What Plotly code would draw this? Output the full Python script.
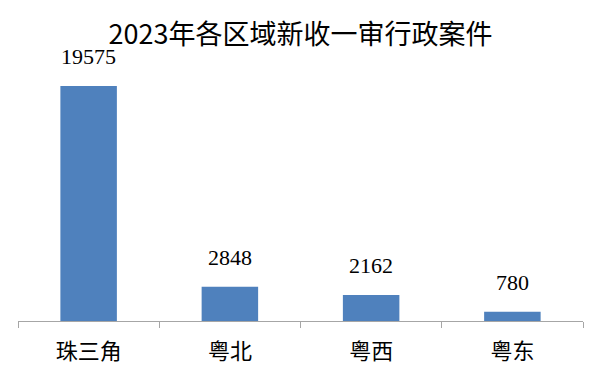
import plotly.graph_objects as go

categories = ["珠三角", "粤北", "粤西", "粤东"]
values = [19575, 2848, 2162, 780]
title_text = "2023年各区域新收一审行政案件"

fig = go.Figure()
fig.add_trace(go.Bar(
    x=categories, y=values,
    marker=dict(color="#4F81BD", line=dict(width=0)),
    hoverinfo="skip",
))
for c, v in zip(categories, values):
    fig.add_annotation(
        x=c, y=v, text=str(v), showarrow=False,
        yanchor="bottom", yshift=15,
        font=dict(family="Liberation Serif, Times New Roman, serif", size=22, color="#000000"),
    )

fig.update_layout(
    width=601, height=384,
    margin=dict(l=18, r=18, t=21, b=63),
    paper_bgcolor="white", plot_bgcolor="white",
    bargap=0.6,
    showlegend=False,
    title=dict(
        text=title_text, x=0.5, xanchor="center", xref="container",
        y=1 - 35 / 384, yanchor="middle", yref="container",
        font=dict(family="Noto Sans CJK SC, sans-serif", size=27, color="#000000"),
    ),
)
fig.update_xaxes(
    type="category",
    showline=True, linecolor="#A6A6A6", linewidth=1,
    ticks="outside", tickson="boundaries", ticklen=6, tickcolor="#A6A6A6",
    ticklabelstandoff=11,
    tickfont=dict(family="Noto Sans CJK SC, sans-serif", size=22, color="#000000"),
    showgrid=False,
)
fig.update_yaxes(
    range=[0, 25000], visible=False, showgrid=False, zeroline=False,
)

fig.write_html(
    "out.html",
    config={"displayModeBar": False},
    post_script="document.body.style.margin='0';document.body.style.overflow='hidden';",
)
